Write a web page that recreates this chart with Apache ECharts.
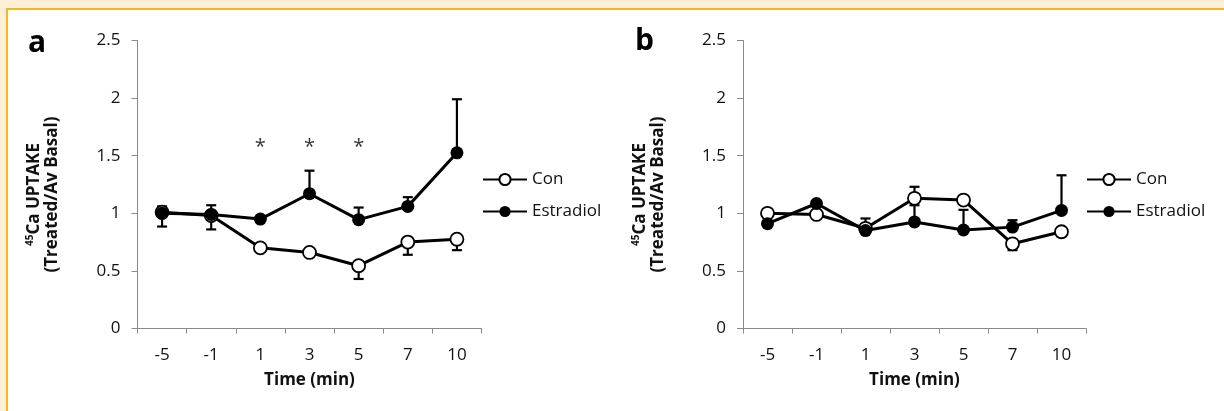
<!DOCTYPE html>
<html>
    <head>
        <meta charset="utf-8" />
        <title>Ca uptake</title>
        <script src="https://cdn.jsdelivr.net/npm/echarts@6.0.0/dist/echarts.min.js"></script>
        <style>
            body { margin: 0; background: #fdf0d4; }
            #frame { position: absolute; left: 6px; top: 8px; width: 1218px; height: 403px; background: #fff; border-top: 2px solid #f2ba22; border-left: 2px solid #f2ba22; }
            #main { position: absolute; left: 0; top: 0; width: 1224px; height: 411px; }
        </style>
    </head>
    <body>
        <div id="frame"></div>
        <div id="main"></div>
        <script type="text/javascript">
            const times = ['-5', '-1', '1', '3', '5', '7', '10'];

            // panel a
            const conA = [1.01, 0.98, 0.70, 0.66, 0.545, 0.75, 0.775];
            const conALow = [0.885, 0.86, 0.665, null, 0.43, 0.64, 0.68];
            const conAHigh = [null, null, null, null, null, null, null];
            const estA = [1.0, 0.99, 0.95, 1.17, 0.945, 1.06, 1.525];
            const estALow = [null, null, null, null, null, null, null];
            const estAHigh = [1.06, 1.07, null, 1.37, 1.05, 1.14, 1.99];
            const starsA = [null, null, 1.575, 1.575, 1.575, null, null];

            // panel b
            const conB = [1.0, 0.99, 0.87, 1.13, 1.115, 0.735, 0.84];
            const conBLow = [null, null, null, null, null, 0.68, 0.80];
            const conBHigh = [null, null, null, 1.23, null, null, null];
            const estB = [0.91, 1.085, 0.85, 0.925, 0.855, 0.88, 1.025];
            const estBLow = [null, null, null, null, null, null, null];
            const estBHigh = [null, null, 0.955, 1.07, 1.03, 0.94, 1.33];

            const CON = 'Con';
            const EST = 'Estradiol';
            const FONT = '"Open Sans", sans-serif';

            const myChart = echarts.init(document.getElementById('main'));

            // each bar goes from the point to its end, so only the visible cap is drawn
            const errSeries = (idx, vals, low, high) => {
                const out = [];
                const lowData = vals.map((v, i) => [i, low[i] == null ? v : low[i], v]);
                const highData = vals.map((v, i) => [i, v, high[i] == null ? v : high[i]]);
                [lowData, highData].forEach((d, k) => {
                    out.push({
                        type: 'custom',
                        xAxisIndex: idx,
                        yAxisIndex: idx,
                        z: 1,
                        silent: true,
                        renderItem: (params, api) => {
                            const a = api.coord([api.value(0), api.value(1)]);
                            const b = api.coord([api.value(0), api.value(2)]);
                            if (Math.abs(a[1] - b[1]) < 0.5) {
                                return { type: 'group', children: [] };
                            }
                            const end = k === 0 ? a : b;
                            const style = { stroke: '#000', lineWidth: 2.2 };
                            return {
                                type: 'group',
                                children: [
                                    { type: 'line', shape: { x1: a[0], y1: a[1], x2: b[0], y2: b[1] }, style: style },
                                    { type: 'line', shape: { x1: end[0] - 5, y1: end[1], x2: end[0] + 5, y2: end[1] }, style: style }
                                ]
                            };
                        },
                        data: d
                    });
                });
                return out;
            };

            const lineSeries = (idx, name, data, filled) => ({
                type: 'line',
                name: name,
                xAxisIndex: idx,
                yAxisIndex: idx,
                data: data,
                z: filled ? 4 : 3,
                symbol: 'circle',
                symbolSize: 13,
                showSymbol: true,
                lineStyle: { color: '#000', width: 3 },
                itemStyle: { color: filled ? '#000' : '#fff', borderColor: '#000', borderWidth: filled ? 0 : 1.8 },
                emphasis: { disabled: true }
            });

            const xAxis = (idx) => ({
                type: 'category',
                gridIndex: idx,
                data: times,
                boundaryGap: true,
                axisLine: { lineStyle: { color: '#8a8a8a', width: 1 } },
                axisTick: { show: true, length: 5, lineStyle: { color: '#8a8a8a' } },
                axisLabel: { color: '#111', fontSize: 17, fontFamily: FONT, margin: 18 },
                name: 'Time (min)',
                nameLocation: 'middle',
                nameGap: 43,
                nameTextStyle: { color: '#111', fontSize: 17, fontWeight: 'bold', fontFamily: FONT }
            });

            const yAxis = (idx) => ({
                type: 'value',
                gridIndex: idx,
                min: 0,
                max: 2.5,
                interval: 0.5,
                splitLine: { show: false },
                axisLine: { show: true, lineStyle: { color: '#8a8a8a', width: 1 } },
                axisTick: { show: true, length: 6, lineStyle: { color: '#8a8a8a' } },
                axisLabel: { color: '#111', fontSize: 17, fontFamily: FONT, margin: 17 },
                name: '{sup|45}{b|Ca UPTAKE}\n{b|(Treated/Av Basal)}',
                nameLocation: 'middle',
                nameRotate: 90,
                nameGap: 76,
                nameTextStyle: {
                    color: '#111',
                    fontFamily: FONT,
                    fontWeight: 'bold',
                    fontSize: 17,
                    lineHeight: 18,
                    padding: [0, 20, 0, 0],
                    rich: {
                        b: { fontFamily: FONT, fontWeight: 'bold', fontSize: 17, lineHeight: 18, color: '#111' },
                        sup: { fontFamily: FONT, fontWeight: 'bold', fontSize: 10, lineHeight: 18, verticalAlign: 'top', color: '#111' }
                    }
                }
            });

            const legend = (names, left) => ({
                data: names,
                orient: 'vertical',
                left: left,
                top: 171,
                padding: 0,
                itemWidth: 44,
                itemHeight: 14,
                itemGap: 15,
                textStyle: { fontSize: 17, fontFamily: FONT, color: '#111' },
                formatter: (n) => n.trim(),
                selectedMode: false
            });

            const option = {
                animation: false,
                title: [
                    { text: 'a', left: 28, top: 28, padding: 0, textStyle: { fontSize: 30, fontWeight: 'bold', fontFamily: FONT, color: '#000' } },
                    { text: 'b', left: 635, top: 26, padding: 0, textStyle: { fontSize: 30, fontWeight: 'bold', fontFamily: FONT, color: '#000' } }
                ],
                grid: [
                    { left: 137.5, top: 40.5, width: 344, height: 288 },
                    { left: 743, top: 40.5, width: 343, height: 288 }
                ],
                legend: [legend([CON, EST], 482), legend([CON + ' ', EST + ' '], 1086)],
                xAxis: [xAxis(0), xAxis(1)],
                yAxis: [yAxis(0), yAxis(1)],
                series: [
                    lineSeries(0, CON, conA, false),
                    lineSeries(0, EST, estA, true),
                    ...errSeries(0, conA, conALow, conAHigh),
                    ...errSeries(0, estA, estALow, estAHigh),
                    {
                        type: 'scatter',
                        xAxisIndex: 0,
                        yAxisIndex: 0,
                        data: starsA,
                        symbolSize: 0,
                        silent: true,
                        label: { show: true, position: 'inside', formatter: '*', fontSize: 20, fontFamily: FONT, color: '#000' }
                    },
                    lineSeries(1, CON + ' ', conB, false),
                    lineSeries(1, EST + ' ', estB, true),
                    ...errSeries(1, conB, conBLow, conBHigh),
                    ...errSeries(1, estB, estBLow, estBHigh)
                ]
            };
            myChart.setOption(option);
        </script>
    </body>
</html>
